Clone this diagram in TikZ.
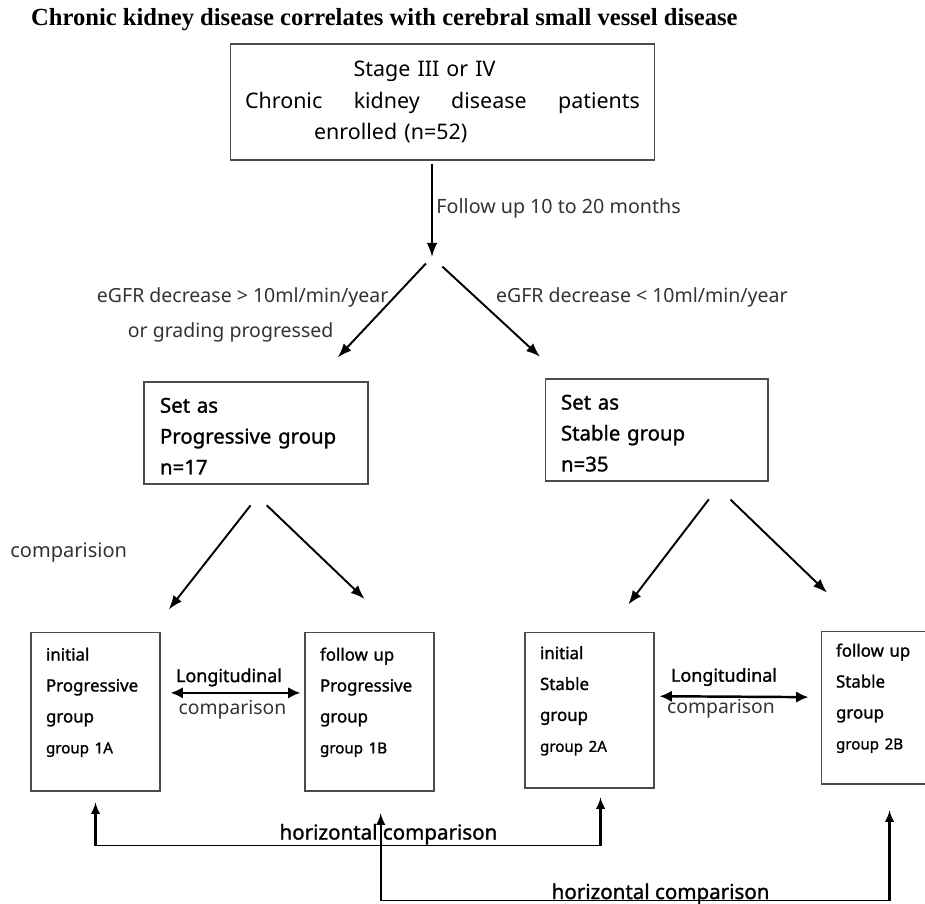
\documentclass[tikz,border=0pt]{standalone}
\usepackage{fontspec}
\setmainfont{Noto Sans}
\newfontfamily\titlefont{Liberation Serif}
\newfontfamily\bsans[FakeBold=1.3]{Noto Sans}
\usetikzlibrary{arrows.meta}

\begin{document}
\begin{tikzpicture}[x=0.02cm, y=-0.02cm, %
      box/.style={draw=black!70, line width=0.6pt, inner xsep=0.3cm, align=left}, %
      arr/.style={-{Latex[length=8pt,width=6pt]}, line width=1.1pt}, %
      dbl/.style={{Latex[length=7pt,width=6.5pt]}-{Latex[length=7pt,width=6.5pt]}, line width=1.4pt}, %
      uparr/.style={-{Latex[length=6.5pt,width=5.5pt]}, line width=1.4pt}, %
      hline/.style={line width=0.6pt}, %
      lab/.style={text=black!80, inner sep=0pt, font=\fontsize{11.1}{19.8}\selectfont}, %
      hlab/.style={inner sep=0pt, anchor=base, font=\bsans\fontsize{11.7}{12}\selectfont}, %
      ]

    \useasboundingbox (0,0) rectangle (925,903);

    \node[anchor=west, font=\titlefont\bfseries\fontsize{14}{16}\selectfont] (title) at (25,20) {Chronic kidney disease correlates with cerebral small vessel disease};

    \node[box, minimum width=8.5cm, minimum height=2.32cm, text width=7.9cm, align=center, font=\fontsize{12.2}{17.8}\selectfont] (ckd) at (442.5,102) {Stage III or IV\hspace{20.4pt}\mbox{}\\Chronic\hfill kidney\hfill disease\hfill patients\\enrolled (n=52)\hspace{59pt}\mbox{}};

    \foreach \a/\x/\y/\w/\tw/\txt in { %
      prog/256/433/4.48/3.84/{Set as\\Progressive group\\n=17},%
      stab/656.5/430/4.46/3.82/{Set as\\Stable group\\n=35}%
    }{ %
      \node[box, inner xsep=0.32cm, minimum width=\w cm, minimum height=2.04cm, text width=\tw cm, font=\bsans\fontsize{11.6}{17.6}\selectfont] (\a) at (\x,\y) {\rule{0pt}{12pt}\txt};
    }

    \foreach \a/\x/\y/\w/\h/\hone/\htwo/\code in { %
      g1a/95.5/711.5/2.58/3.18/initial/Progressive/1A,%
      g1b/369.5/711.5/2.58/3.18/follow up/Progressive/1B,%
      g2a/589.5/710/2.5/3.12/initial/Stable/2A,%
      g2b/885.5/707.5/2.58/3.06/follow up/Stable/2B%
    }{ %
      \node[box, minimum width=\w cm, minimum height=\h cm, text width=1.98cm, font=\bsans\fontsize{9.6}{17.6}\selectfont] (\a) at (\x,\y) {\hone\\\htwo\\group\\{\fontsize{8.6}{17.6}\selectfont group \code}\rule[-12.5pt]{0pt}{0pt}};
    }

    \node[lab, anchor=west, font=\fontsize{11.4}{12}\selectfont] (cmp) at (10,553) {comparision};

    % follow up and split
    \coordinate (fork) at (432,257);
    \draw[arr, shorten <=0.06cm] (ckd.south -| fork) -- (fork) node[midway, right=2pt, lab, font=\fontsize{11.2}{12}\selectfont] {Follow up 10 to 20 months};

    \draw[arr, shorten <=0.18cm, shorten >=0.66cm] (fork) -- (prog.41) node[pos=0.468, anchor=east, xshift=0.24cm, lab, align=left] {eGFR decrease > 10ml/min/year\\\hspace*{17.6pt}or grading progressed};
    \draw[arr, shorten <=0.28cm, shorten >=0.64cm] (fork) -- (stab.151) node[pos=0.336, right=0.38cm, lab] {eGFR decrease < 10ml/min/year};

    \foreach \from/\to/\sa/\sb in { %
      prog.-78/g1a.55/0.53/0.56, prog.-102/g1b.70/0.6/0.94, %
      stab.-38/g2a.77/0.45/0.68, stab.-43/g2b.104/0.52/1.09%
    }{ \draw[arr, shorten <=\sa cm, shorten >=\sb cm] (\from) -- (\to);
    }

    % longitudinal
    \draw[dbl, shorten <=0.2cm, shorten >=0.08cm] (g1a.16) -- (g1b.164)
      node[midway, above=3pt, xshift=-0.07cm, inner sep=0pt, font=\bsans\fontsize{10.2}{11}\selectfont] {Longitudinal}
      node[midway, below=3.5pt, lab, font=\fontsize{11}{12}\selectfont] {comparison};
    \draw[dbl, shorten <=0.1cm, shorten >=0.24cm] (g2a.12) -- (g2b.171)
      node[midway, above=5.4pt, xshift=-0.27cm, inner sep=0pt, font=\bsans\fontsize{10.2}{11}\selectfont] {Longitudinal}
      node[midway, below=1pt, xshift=-0.33cm, lab, font=\fontsize{11}{12}\selectfont] {comparison};

    % horizontal
    \draw[hline, shorten <=0.22cm, shorten >=0.18cm] (g1a.south) -- ++(0,54) coordinate (h1l) -| (g2a.-82)
      node[pos=0.29, hlab, yshift=0.12cm] {horizontal comparison};
    \draw[uparr, shorten >=0.22cm] (h1l) -- (g1a.south);
    \draw[uparr, shorten >=0.18cm] (h1l -| g2a.-82) -- (g2a.-82);

    \draw[hline, shorten <=0.44cm, shorten >=0.52cm] (g1b.-82) -- ++(0,109) coordinate (h2l) -| (g2b.-87)
      node[pos=0.275, hlab, yshift=0.03cm] {horizontal comparison};
    \draw[uparr, shorten >=0.44cm] (h2l) -- (g1b.-82);
    \draw[uparr, shorten >=0.52cm] (h2l -| g2b.-87) -- (g2b.-87);
    \end{tikzpicture}
\end{document}
